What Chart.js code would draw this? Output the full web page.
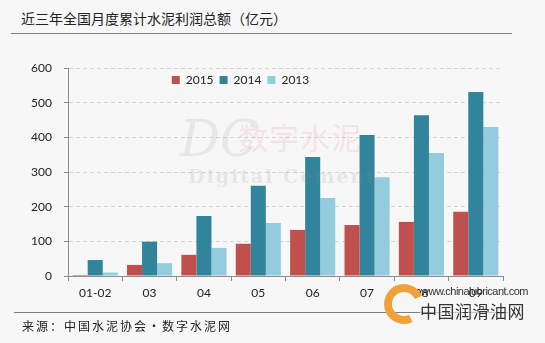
<!DOCTYPE html>
<html>
<head>
<meta charset="utf-8">
<script src="https://cdn.jsdelivr.net/npm/chart.js@4"></script>
<style>
  html, body { margin: 0; padding: 0; background: #f7f7f7; }
  body { width: 545px; height: 343px; position: relative; overflow: hidden; font-family: "Noto Sans CJK SC", sans-serif; }
  #title { position: absolute; left: 21px; top: 8px; font-size: 14px; color: #222; white-space: nowrap; }
  .rule { position: absolute; height: 1px; background: #7f7f7f; }
  #source { position: absolute; left: 22px; top: 317px; font-size: 12px; letter-spacing: 2px; color: #222; white-space: nowrap; }
  #chart { position: absolute; left: 0; top: 0; }
  .wm { position: absolute; pointer-events: none; white-space: nowrap; }
</style>
</head>
<body>
<div id="title">近三年全国月度累计水泥利润总额（亿元）</div>
<div class="rule" style="left:11px; top:33px; width:501px;"></div>
<canvas id="chart" width="545" height="343"></canvas>

<!-- watermarks -->
<div class="wm" style="left:180px; top:110px; font: italic 50px 'DejaVu Serif', serif; color: rgba(150,150,150,0.16);">DC</div>
<div class="wm" style="left:238px; top:114px; font: 30px 'Noto Sans CJK SC', serif; color: rgba(235,120,140,0.16); letter-spacing: 1px;">数字水泥</div>
<div class="wm" style="left:188px; top:165px; font: bold 19px 'DejaVu Serif', serif; color: rgba(140,140,140,0.16); letter-spacing: 2px;">Digital Cement</div>

<div class="rule" style="left:14px; top:312px; width:494px;"></div>
<div id="source">来源：中国水泥协会•数字水泥网</div>

<div class="wm" style="left:384px; top:284px; width:24px; height:24px; border:8px solid #f0a23a; border-right-color: transparent; border-radius:50%; transform: rotate(20deg);"></div>
<div class="wm" style="left:421px; top:285px; font: 11px 'Liberation Sans', sans-serif; color:#333; letter-spacing:-0.5px;">www.chinalubricant.com</div>
<div class="wm" style="left:420px; top:298px; font: 17px 'Noto Sans CJK SC', sans-serif; color:#333; letter-spacing: 0.5px; background: rgba(247,247,247,0.6);">中国润滑油网</div>

<script>
const months = ['01-02', '03', '04', '05', '06', '07', '08', '09'];
const years = ['2015', '2014', '2013'];
const profit2015 = [3, 32, 61, 93, 133, 147, 156, 185];
const profit2014 = [46, 99, 173, 260, 343, 407, 464, 531];
const profit2013 = [10, 37, 81, 153, 225, 285, 355, 430];
const yTicks = [0, 100, 200, 300, 400, 500, 600];

const colors = ['#c0504d', '#31849b', '#93cddd'];

// the legend is drawn inside the plot, a bit left of centre
const moveLegend = {
    id: 'moveLegend',
    afterLayout(chart) {
        const lg = chart.legend;
        if (!lg) return;
        const h = lg.bottom - lg.top;
        lg.top = 82 - h / 2;
        lg.bottom = lg.top + h;
        lg.left -= 25;
        lg.right -= 25;
    }
};

const ctx = document.getElementById('chart').getContext('2d');
new Chart(ctx, {
    type: 'bar',
    data: {
        labels: months,
        datasets: [profit2015, profit2014, profit2013].map((vals, i) => ({
            label: years[i],
            data: vals,
            backgroundColor: colors[i],
            borderWidth: 0,
            categoryPercentage: 0.83,
            barPercentage: 1.0
        }))
    },
    options: {
        responsive: false,
        animation: false,
        layout: { padding: { left: 28, right: 42, top: 40, bottom: 37 } },
        scales: {
            x: {
                afterFit: s => { s.height = 30; },
                grid: { display: true, drawOnChartArea: false, drawTicks: true, tickLength: 5, tickColor: '#8c8c8c', offset: true },
                border: { color: '#8c8c8c', width: 1 },
                ticks: { color: '#222', padding: 5, font: { family: 'Lato', size: 12 } }
            },
            y: {
                min: 0,
                max: 600,
                afterFit: s => { s.width = 40; },
                afterBuildTicks: s => { s.ticks = yTicks.map(v => ({ value: v })); },
                grid: { color: '#d4d4d4', tickColor: '#8c8c8c', tickLength: 4, drawTicks: true },
                border: { color: '#8c8c8c', width: 1, dash: [4, 3] },
                ticks: { color: '#222', padding: 12, font: { family: 'Lato', size: 12 } }
            }
        },
        plugins: {
            legend: {
                position: 'top',
                align: 'center',
                labels: {
                    boxWidth: 8,
                    boxHeight: 8,
                    padding: 6,
                    color: '#222',
                    font: { family: 'Lato', size: 12 }
                }
            },
            tooltip: { enabled: false }
        }
    },
    plugins: [moveLegend]
});
</script>
</body>
</html>
